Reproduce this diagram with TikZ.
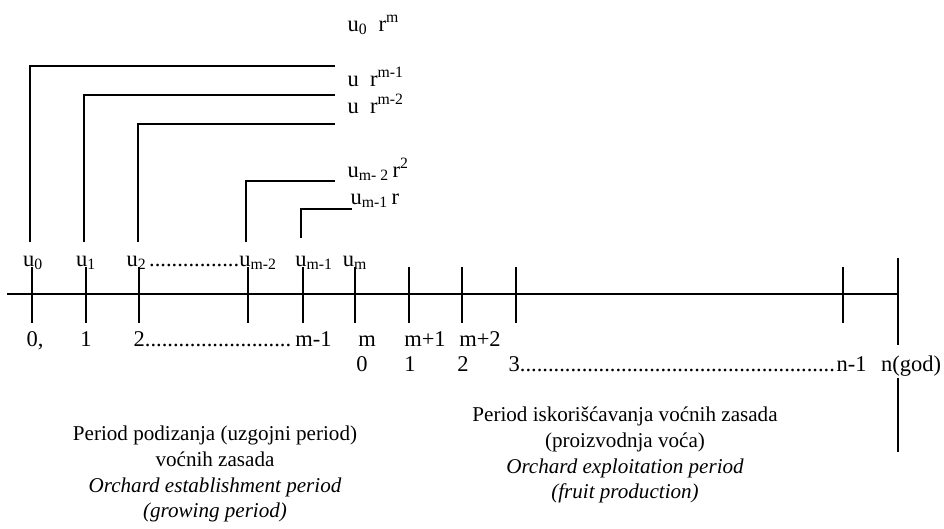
\documentclass[tikz,border=0pt]{standalone}
\usepackage{fontspec}
\setmainfont{Liberation Serif}
\usetikzlibrary{positioning}
\tikzset{
  timeLine/.style={line width=0.9pt},
  axisLabel/.style={
    font=\fontsize{16}{19}\selectfont,
    inner sep=0pt,
    anchor=base
  },
  termLabel/.style={
    axisLabel,
    anchor=base west
  },
  periodText/.style={
    align=center,
    font=\fontsize{15}{18.4}\selectfont,
    inner sep=0pt
  }
}
% dense row of dots between two labels
\newcommand\dotRun{\leaders\hbox{.}\hfill}

\begin{document}
\begin{tikzpicture}[x=0.025cm,y=-0.025cm,timeLine]
    \useasboundingbox (0,0) rectangle (944,528);

    % time axis
    \coordinate (axisStart) at (7,294);
    \coordinate (axisEnd) at (898,294);
    \draw (axisStart) -- (axisEnd);

    % tick marks
    \foreach \x in {32,86,139,248,303,355,409,462,516,843} {
      \draw (\x,267) -- (\x,323);
    }
    \draw (898,258) -- (898,345);
    \draw (898,378) -- (898,452);

    % compounding brackets
    \foreach \x/\y in {30/66,84/95,138/124,246/181} {
      \draw (\x,242) |- (335,\y);
    }
    \draw (301,238) |- (352,209);

    % compounded values
    \node[termLabel] (termA) at (347,31) {u\textsubscript{0}\ \ r\textsuperscript{m}};
    \node[termLabel] (termB) at (347,86) {u\ \ r\textsuperscript{m-1}};
    \node[termLabel] (termC) at (347,113) {u\ \ r\textsuperscript{m-2}};
    \node[termLabel] (termD) at (347,177) {u\textsubscript{m- 2}\,r\textsuperscript{2}};
    \node[termLabel] (termE) at (350,204) {u\textsubscript{m-1}\,r};

    % payments above the axis
    \node[axisLabel] (payA) at (33,266) {u\textsubscript{0}};
    \node[axisLabel] (payB) at (86,266) {u\textsubscript{1}};
    \node[termLabel] (payC) at (126,266)
      {\makebox[3.75cm][s]{u\textsubscript{2}\dotRun u\textsubscript{m-2}}};
    \node[axisLabel] (payD) at (314,266) {u\textsubscript{m-1}};
    \node[axisLabel] (payE) at (355,266) {u\textsubscript{m}};

    % years of establishment
    \node[axisLabel] (yearA) at (35,346) {0,};
    \node[axisLabel] (yearB) at (86,346) {1};
    \node[termLabel] (yearC) at (133,346)
      {\makebox[4.95cm][s]{2\dotRun m-1}};
    \node[axisLabel] (yearD) at (367,346) {m};
    \node[axisLabel] (yearE) at (425,346) {m+1};
    \node[axisLabel] (yearF) at (480,346) {m+2};

    % years of exploitation
    \node[axisLabel] (prodA) at (362,371) {0};
    \node[axisLabel] (prodB) at (410,371) {1};
    \node[axisLabel] (prodC) at (463,371) {2};
    \node[termLabel] (prodD) at (508,371)
      {\makebox[8.95cm][s]{3\dotRun n-1}};
    \node[axisLabel] (prodE) at (911,371) {n(god)};

    % period descriptions
    \node[periodText] (growPeriod) at (215,474)
      {Period podizanja (uzgojni period)\\ voćnih zasada\\
       \itshape Orchard establishment period\\ \itshape (growing period)};
    \node[periodText] (fruitPeriod) at (625,455)
      {Period iskorišćavanja voćnih zasada\\ (proizvodnja voća)\\
       \itshape Orchard exploitation period\\ \itshape (fruit production)};
\end{tikzpicture}
\end{document}
